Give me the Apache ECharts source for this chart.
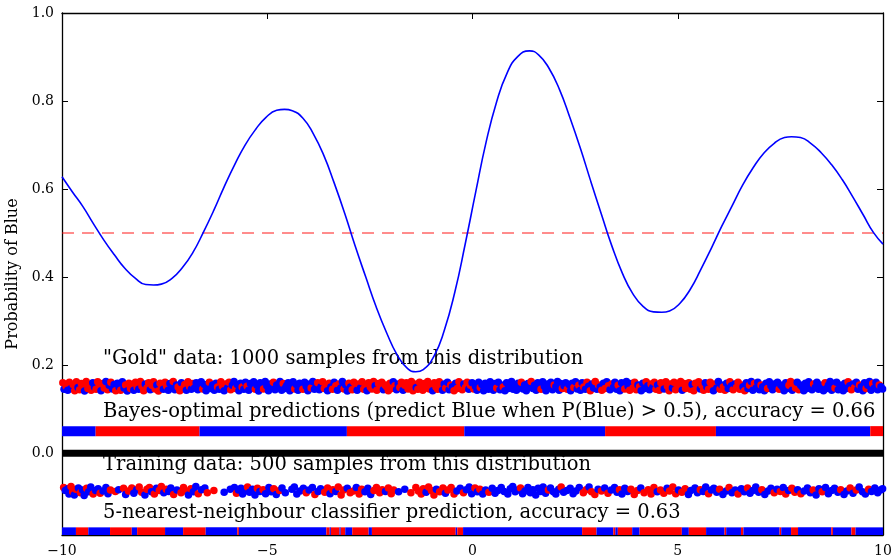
<!DOCTYPE html>
<html>
<head>
<meta charset="utf-8">
<script src="https://cdn.jsdelivr.net/npm/echarts@6/dist/echarts.min.js"></script>
<style>html,body{margin:0;padding:0;background:#fff}#c{width:894px;height:558px}</style>
</head>
<body>
<div id="c"></div>
<script>
// ---------- data ----------
const xTicks = [-10, -5, 0, 5, 10];
const yTicks = [0.0, 0.2, 0.4, 0.6, 0.8, 1.0];
const yMin = -0.186, yMax = 1.0;
const threshold = 0.5;

const curveX = [-10,-9.75,-9.49,-9.24,-8.98,-8.72,-8.47,-8.21,-7.96,-7.77,-7.58,-7.32,-7.07,-6.81,-6.56,-6.30,-6.05,-5.79,-5.54,-5.28,-5.03,-4.77,-4.58,-4.39,-4.13,-3.88,-3.62,-3.37,-3.11,-2.86,-2.60,-2.35,-2.09,-1.84,-1.58,-1.38,-1.20,-0.94,-0.69,-0.43,-0.18,0.08,0.33,0.59,0.84,1.10,1.39,1.61,1.86,2.12,2.37,2.63,2.88,3.14,3.39,3.65,3.90,4.16,4.41,4.61,4.80,5.05,5.31,5.56,5.82,6.07,6.33,6.58,6.84,7.09,7.35,7.60,7.77,7.99,8.24,8.50,8.75,9.01,9.26,9.52,9.77,10];
const curveY = [0.628,0.594,0.560,0.522,0.484,0.450,0.420,0.397,0.383,0.382,0.384,0.397,0.421,0.456,0.501,0.552,0.605,0.656,0.700,0.736,0.763,0.779,0.781,0.778,0.761,0.726,0.676,0.614,0.544,0.471,0.400,0.333,0.273,0.224,0.192,0.185,0.190,0.220,0.278,0.366,0.474,0.594,0.706,0.799,0.863,0.901,0.914,0.905,0.875,0.826,0.763,0.692,0.618,0.543,0.472,0.409,0.363,0.333,0.321,0.320,0.323,0.340,0.373,0.417,0.466,0.515,0.563,0.609,0.649,0.681,0.704,0.717,0.719,0.717,0.704,0.682,0.655,0.621,0.583,0.541,0.501,0.475];

// [x, y, colour] colour: 1 = Blue, 0 = Red
const goldPoints = [
[-9.98,.160,0],[-9.95,.145,1],[-9.9,.152,0],[-9.86,.143,1],[-9.82,.161,0],[-9.78,.147,1],
[-9.73,.156,0],[-9.69,.142,0],[-9.65,.162,0],[-9.61,.149,1],[-9.57,.144,0],[-9.53,.158,0],[-9.49,.150,0],[-9.45,.141,1],[-9.41,.163,0],[-9.37,.147,0],[-9.33,.155,0],[-9.29,.143,0],[-9.25,.160,1],[-9.21,.150,1],[-9.17,.145,0],[-9.13,.162,0],[-9.09,.153,0],[-9.05,.142,1],[-9.01,.158,0],[-8.97,.148,0],
[-8.93,.163,1],[-8.89,.144,0],[-8.85,.154,1],[-8.81,.161,0],[-8.77,.146,1],[-8.73,.156,1],[-8.69,.142,0],[-8.65,.159,1],[-8.61,.150,1],[-8.57,.143,0],[-8.53,.162,1],[-8.49,.148,1],[-8.45,.155,0],[-8.41,.141,1],
[-8.37,.159,0],[-8.33,.147,0],[-8.29,.156,0],[-8.25,.143,1],[-8.21,.161,0],[-8.17,.150,0],[-8.13,.145,1],[-8.09,.163,0],[-8.05,.152,0],[-8.01,.142,0],[-7.97,.157,1],[-7.93,.148,0],[-7.89,.160,0],[-7.85,.144,1],[-7.81,.154,0],[-7.77,.162,0],[-7.73,.146,0],[-7.69,.155,1],[-7.65,.141,0],[-7.61,.159,0],
[-7.57,.150,0],[-7.53,.145,1],[-7.49,.161,0],[-7.45,.152,0],[-7.41,.143,1],[-7.37,.158,1],[-7.33,.148,1],[-7.29,.163,0],[-7.25,.144,1],[-7.21,.155,1],[-7.17,.150,0],[-7.13,.142,0],[-7.09,.160,1],[-7.05,.147,0],[-7.01,.156,0],[-6.97,.143,1],[-6.93,.162,0],[-6.89,.151,0],[-6.85,.145,1],[-6.81,.158,0],[-6.77,.148,1],
[-6.73,.160,1],[-6.69,.144,1],[-6.65,.153,1],[-6.61,.162,1],[-6.57,.146,0],[-6.53,.156,1],[-6.49,.142,1],[-6.45,.150,1],[-6.41,.161,0],[-6.37,.147,1],[-6.33,.155,1],[-6.29,.143,1],[-6.25,.159,1],[-6.21,.150,0],
[-6.17,.145,1],[-6.13,.162,0],[-6.09,.152,0],[-6.05,.142,1],[-6.01,.157,0],[-5.97,.148,1],[-5.93,.161,0],[-5.89,.144,0],[-5.85,.154,1],[-5.81,.163,1],[-5.77,.147,0],[-5.73,.156,1],[-5.69,.142,1],[-5.65,.159,1],[-5.61,.150,0],[-5.57,.145,1],[-5.53,.161,1],[-5.49,.152,0],
[-5.45,.143,1],[-5.41,.158,1],[-5.37,.148,1],[-5.33,.162,1],[-5.29,.145,0],[-5.25,.154,1],[-5.21,.141,1],[-5.17,.160,1],[-5.13,.150,1],[-5.09,.146,0],[-5.05,.163,1],[-5.01,.153,1],[-4.97,.142,1],[-4.93,.157,1],[-4.89,.148,1],[-4.85,.161,0],[-4.81,.144,1],[-4.77,.155,1],[-4.73,.150,1],[-4.69,.163,1],[-4.65,.143,1],[-4.61,.158,0],[-4.57,.147,1],[-4.53,.153,1],[-4.49,.160,1],[-4.45,.142,1],[-4.41,.151,1],[-4.37,.162,1],[-4.33,.146,0],[-4.29,.156,1],[-4.25,.143,1],[-4.21,.159,1],[-4.17,.149,1],[-4.13,.145,0],[-4.09,.161,1],[-4.05,.152,1],[-4.01,.142,1],[-3.97,.157,1],[-3.93,.148,0],[-3.89,.163,1],[-3.85,.145,1],
[-3.81,.154,1],[-3.77,.160,0],[-3.73,.144,1],[-3.69,.151,1],[-3.65,.162,0],[-3.61,.147,0],[-3.57,.156,0],[-3.53,.142,1],[-3.49,.159,0],[-3.45,.150,1],[-3.41,.145,0],[-3.37,.161,1],[-3.33,.153,0],[-3.29,.143,1],[-3.25,.157,0],[-3.21,.148,1],[-3.17,.163,1],[-3.13,.146,0],[-3.09,.155,1],[-3.05,.141,1],[-3.01,.159,0],[-2.97,.150,1],[-2.93,.144,0],[-2.89,.161,0],[-2.85,.152,0],[-2.81,.143,1],[-2.77,.157,0],[-2.73,.148,1],[-2.69,.162,0],
[-2.65,.145,0],[-2.61,.155,0],[-2.57,.142,1],[-2.53,.160,0],[-2.49,.150,0],[-2.45,.146,0],[-2.41,.163,0],[-2.37,.153,1],[-2.33,.143,0],[-2.29,.158,0],[-2.25,.148,0],[-2.21,.161,0],[-2.17,.144,1],[-2.13,.155,0],[-2.09,.151,0],[-2.05,.142,0],[-2.01,.159,0],[-1.97,.147,0],[-1.93,.162,1],[-1.89,.153,0],
[-1.85,.144,1],[-1.81,.157,1],[-1.77,.149,0],[-1.73,.161,0],[-1.69,.143,1],[-1.65,.154,0],[-1.61,.160,0],[-1.57,.146,0],[-1.53,.152,0],[-1.49,.163,0],[-1.45,.142,0],[-1.41,.157,0],[-1.37,.149,1],[-1.33,.145,0],[-1.29,.161,0],[-1.25,.152,0],[-1.21,.143,0],[-1.17,.158,0],[-1.13,.148,0],[-1.09,.163,0],[-1.05,.146,0],[-1.01,.155,0],[-0.97,.142,1],[-0.93,.160,0],[-0.89,.150,0],[-0.85,.145,0],[-0.81,.162,0],[-0.77,.153,0],[-0.73,.143,1],[-0.69,.157,1],[-0.65,.148,0],[-0.61,.161,1],[-0.57,.144,1],[-0.53,.155,0],[-0.49,.151,1],[-0.45,.142,0],[-0.41,.159,1],[-0.37,.147,0],[-0.33,.162,0],[-0.29,.153,0],[-0.25,.144,0],[-0.21,.157,1],[-0.17,.149,0],[-0.13,.161,0],[-0.09,.145,1],[-0.05,.154,0],[-0.01,.160,1],
[0.03,.146,0],[0.07,.152,1],[0.11,.143,1],[0.15,.161,1],[0.19,.149,0],[0.23,.156,1],[0.27,.142,1],[0.31,.159,1],[0.35,.150,1],[0.39,.145,1],[0.43,.162,1],[0.47,.153,1],
[0.51,.143,1],[0.55,.158,1],[0.59,.148,0],[0.63,.161,1],[0.67,.144,1],[0.71,.155,1],[0.75,.150,0],[0.79,.142,1],[0.83,.160,1],[0.87,.147,1],[0.91,.156,1],[0.95,.163,1],[0.99,.145,1],[1.03,.152,1],[1.07,.143,1],[1.11,.159,1],[1.15,.149,1],[1.19,.161,0],[1.23,.146,1],[1.27,.155,1],[1.31,.142,1],[1.35,.158,1],[1.39,.150,1],[1.43,.163,0],
[1.47,.147,1],[1.51,.154,1],[1.55,.143,1],[1.59,.160,1],[1.63,.150,1],[1.67,.145,0],[1.71,.162,1],[1.75,.152,1],[1.79,.142,1],[1.83,.157,1],[1.87,.148,1],[1.91,.161,1],[1.95,.144,1],[1.99,.155,0],[2.03,.151,1],[2.07,.163,1],[2.11,.143,1],[2.15,.158,1],[2.19,.147,0],[2.23,.153,1],[2.27,.160,1],[2.31,.145,0],[2.35,.156,1],[2.39,.142,1],[2.43,.159,1],
[2.47,.149,0],[2.51,.162,1],[2.55,.146,1],[2.59,.154,0],[2.63,.143,1],[2.67,.160,1],[2.71,.150,0],[2.75,.145,1],[2.79,.161,0],[2.83,.152,1],[2.87,.142,0],[2.91,.157,1],[2.95,.148,1],[2.99,.163,0],[3.03,.145,1],[3.07,.155,0],[3.11,.150,1],[3.15,.143,0],[3.19,.159,1],[3.23,.147,0],[3.27,.162,1],[3.31,.153,0],[3.35,.144,1],[3.39,.157,0],
[3.43,.149,1],[3.47,.161,1],[3.51,.145,1],[3.55,.154,0],[3.59,.142,1],[3.63,.160,1],[3.67,.150,1],[3.71,.146,0],[3.75,.163,1],[3.79,.152,1],[3.83,.143,0],[3.87,.158,1],[3.91,.148,0],[3.95,.161,0],[3.99,.144,0],[4.03,.155,1],[4.07,.151,0],[4.11,.142,1],[4.15,.159,1],[4.19,.147,1],[4.23,.162,0],[4.27,.153,1],[4.31,.144,1],[4.35,.157,0],[4.39,.149,1],[4.43,.161,0],[4.47,.145,0],[4.51,.155,1],
[4.55,.143,0],[4.59,.160,0],[4.63,.150,0],[4.67,.146,1],[4.71,.162,0],[4.75,.152,0],[4.79,.142,0],[4.83,.157,0],[4.87,.148,1],[4.91,.161,0],[4.95,.144,0],[4.99,.155,0],[5.03,.151,0],[5.07,.163,0],[5.11,.143,1],[5.15,.158,0],[5.19,.147,0],[5.23,.153,0],[5.27,.160,0],[5.31,.145,0],[5.35,.156,1],[5.39,.142,0],[5.43,.159,0],[5.47,.149,0],[5.51,.162,0],[5.55,.146,1],[5.59,.154,0],[5.63,.143,0],[5.67,.160,1],[5.71,.150,1],[5.75,.145,0],[5.79,.161,0],[5.83,.152,0],[5.87,.142,1],[5.91,.157,0],[5.95,.148,1],[5.99,.163,1],[6.03,.145,0],[6.07,.155,1],[6.11,.150,0],[6.15,.143,0],
[6.19,.159,1],[6.23,.147,1],[6.27,.162,0],[6.31,.153,1],[6.35,.144,0],[6.39,.157,1],[6.43,.149,0],[6.47,.161,0],[6.51,.145,0],[6.55,.155,0],[6.59,.151,1],[6.63,.142,0],[6.67,.160,1],[6.71,.147,1],[6.75,.154,0],[6.79,.163,1],[6.83,.143,1],[6.87,.158,0],[6.91,.148,1],[6.95,.161,1],[6.99,.144,1],[7.03,.155,0],[7.07,.151,1],[7.11,.142,1],[7.15,.159,1],[7.19,.147,0],[7.23,.162,1],[7.27,.153,1],[7.31,.144,1],
[7.35,.157,1],[7.39,.149,1],[7.43,.161,1],[7.47,.145,0],[7.51,.155,1],[7.55,.151,1],[7.59,.142,1],[7.63,.160,1],[7.67,.147,1],[7.71,.154,0],[7.75,.163,0],[7.79,.143,1],[7.83,.158,0],[7.87,.148,0],[7.91,.161,1],[7.95,.144,0],[7.99,.155,1],[8.03,.151,1],[8.07,.142,1],[8.11,.159,1],
[8.15,.147,1],[8.19,.162,1],[8.23,.153,1],[8.27,.144,1],[8.31,.157,0],[8.35,.149,1],[8.39,.161,1],[8.43,.145,1],[8.47,.155,1],[8.51,.151,1],[8.55,.142,1],[8.59,.160,0],[8.63,.147,1],[8.67,.154,1],[8.71,.163,1],[8.75,.143,1],[8.79,.158,1],[8.83,.148,0],[8.87,.161,1],[8.91,.144,1],[8.95,.155,1],[8.99,.151,1],[9.03,.142,1],[9.07,.159,1],[9.11,.147,1],[9.15,.162,0],[9.19,.153,1],[9.23,.144,0],[9.27,.157,1],[9.31,.149,0],[9.35,.161,1],[9.39,.145,1],[9.43,.155,0],[9.47,.151,1],[9.51,.142,1],[9.55,.160,1],[9.59,.147,0],[9.63,.154,1],[9.67,.163,1],[9.71,.143,1],[9.75,.158,0],[9.79,.148,1],[9.83,.161,1],[9.87,.144,1],[9.91,.155,0],[9.95,.151,1],[9.99,.146,1]
];

const trainPoints = [
[-9.96,-.078,0],[-9.92,-.085,1],[-9.86,-.081,1],[-9.83,-.093,1],[-9.78,-.076,0],[-9.74,-.088,0],[-9.7,-.095,1],[-9.66,-.082,0],[-9.6,-.079,1],[-9.55,-.090,0],[-9.5,-.084,1],[-9.46,-.096,1],[-9.4,-.080,0],[-9.35,-.088,1],[-9.3,-.077,1],[-9.24,-.093,0],[-9.18,-.085,1],[-9.12,-.081,1],[-9.07,-.091,0],[-9.0,-.086,1],[-8.93,-.078,1],[-8.88,-.092,1],[-8.82,-.084,0],
[-8.7,-.087,0],[-8.62,-.083,1],
[-8.5,-.080,0],[-8.45,-.094,1],[-8.38,-.086,0],[-8.3,-.079,0],[-8.25,-.091,1],[-8.18,-.083,1],[-8.12,-.077,0],[-8.06,-.089,0],[-7.98,-.095,1],[-7.93,-.082,0],[-7.87,-.078,0],[-7.82,-.088,1],[-7.75,-.093,0],[-7.7,-.080,1],[-7.63,-.085,0],[-7.58,-.076,0],
[-7.52,-.090,1],[-7.46,-.082,0],[-7.4,-.087,1],[-7.35,-.079,1],[-7.28,-.094,0],[-7.2,-.084,1],[-7.1,-.090,0],[-7.04,-.078,0],[-6.98,-.086,0],[-6.92,-.095,1],[-6.86,-.081,0],[-6.8,-.088,1],[-6.74,-.076,1],[-6.68,-.092,0],[-6.6,-.083,1],[-6.52,-.079,1],[-6.46,-.090,0],
[-6.3,-.085,0],[-6.05,-.089,1],[-5.9,-.082,1],
[-5.8,-.078,1],[-5.75,-.091,0],[-5.7,-.084,1],[-5.64,-.080,1],[-5.6,-.093,1],[-5.54,-.086,1],[-5.48,-.077,0],[-5.43,-.089,1],[-5.36,-.082,1],[-5.3,-.095,1],[-5.24,-.080,0],[-5.18,-.087,1],[-5.1,-.083,0],[-5.04,-.092,1],[-4.96,-.078,1],[-4.9,-.088,1],[-4.84,-.081,0],[-4.78,-.094,1],[-4.7,-.085,0],[-4.64,-.079,1],[-4.56,-.090,1],
[-4.4,-.082,1],[-4.34,-.077,1],[-4.28,-.093,1],[-4.2,-.086,1],[-4.12,-.080,1],[-4.05,-.090,0],[-3.98,-.084,1],[-3.9,-.078,1],[-3.84,-.094,0],[-3.76,-.087,1],[-3.7,-.081,1],
[-3.6,-.089,0],[-3.53,-.079,0],[-3.47,-.092,1],[-3.4,-.083,0],[-3.33,-.087,1],[-3.27,-.077,0],[-3.2,-.095,0],[-3.14,-.084,0],[-3.05,-.080,1],[-2.98,-.090,0],[-2.9,-.086,0],[-2.83,-.078,1],[-2.76,-.093,0],[-2.7,-.082,0],
[-2.62,-.088,1],[-2.55,-.080,1],[-2.48,-.094,1],[-2.4,-.085,0],[-2.34,-.078,0],[-2.26,-.090,0],[-2.2,-.083,0],[-2.12,-.087,1],[-2.05,-.079,0],[-1.98,-.092,0],[-1.92,-.084,0],
[-1.8,-.088,1],[-1.65,-.082,1],[-1.5,-.090,0],
[-1.38,-.078,0],[-1.32,-.086,0],[-1.25,-.093,0],[-1.2,-.081,0],[-1.13,-.089,1],[-1.07,-.077,0],[-1.0,-.085,0],[-0.94,-.095,0],[-0.88,-.082,1],[-0.8,-.088,0],[-0.72,-.079,0],[-0.66,-.091,1],[-0.6,-.084,0],[-0.52,-.078,0],[-0.45,-.093,0],[-0.38,-.086,1],[-0.3,-.080,1],[-0.22,-.090,0],[-0.15,-.083,1],[-0.08,-.077,1],[-0.02,-.092,1],
[0.06,-.079,0],[0.12,-.088,1],[0.18,-.082,0],[0.25,-.093,1],[0.32,-.084,1],[0.4,-.089,0],[0.48,-.080,1],[0.55,-.091,1],[0.62,-.085,1],[0.7,-.078,1],[0.77,-.087,1],
[0.86,-.093,1],[0.92,-.081,1],[0.98,-.076,1],[1.04,-.088,1],[1.1,-.084,1],[1.17,-.079,0],[1.22,-.092,1],[1.28,-.086,1],[1.35,-.078,1],[1.41,-.090,1],[1.47,-.083,1],[1.54,-.095,1],[1.6,-.080,1],[1.66,-.087,1],[1.72,-.077,1],[1.78,-.091,1],[1.85,-.084,0],[1.9,-.079,1],[1.97,-.088,1],[2.03,-.093,1],[2.1,-.082,1],[2.16,-.077,0],[2.22,-.089,1],[2.3,-.085,1],[2.38,-.080,1],[2.45,-.092,1],[2.52,-.086,1],[2.6,-.078,1],
[2.7,-.090,0],[2.77,-.083,0],[2.84,-.077,1],[2.9,-.088,0],[2.98,-.094,0],[3.06,-.082,1],[3.14,-.086,0],[3.22,-.079,1],[3.3,-.091,0],[3.38,-.084,1],
[3.46,-.078,1],[3.52,-.089,1],[3.58,-.083,0],[3.64,-.093,1],[3.71,-.080,1],[3.78,-.087,1],[3.86,-.082,0],[3.94,-.094,0],[4.02,-.085,0],[4.1,-.079,1],[4.18,-.090,0],
[4.28,-.083,0],[4.35,-.093,0],[4.42,-.078,0],[4.5,-.088,1],[4.58,-.084,0],[4.66,-.091,0],[4.74,-.080,1],[4.8,-.086,0],[4.88,-.077,0],[4.95,-.092,0],[5.02,-.084,1],[5.1,-.089,0],[5.18,-.081,0],[5.26,-.094,1],[5.32,-.085,1],
[5.42,-.079,1],[5.48,-.090,1],[5.55,-.083,0],[5.62,-.087,1],[5.68,-.077,1],[5.75,-.092,0],[5.82,-.084,1],[5.88,-.080,1],[5.95,-.089,1],[6.02,-.082,0],[6.1,-.094,1],[6.18,-.086,1],[6.25,-.078,0],[6.32,-.090,1],[6.4,-.084,1],[6.47,-.093,0],
[6.55,-.081,1],[6.62,-.088,1],[6.7,-.079,0],[6.76,-.091,1],[6.83,-.085,1],[6.9,-.077,1],[6.97,-.089,1],[7.05,-.083,0],[7.12,-.094,1],[7.2,-.086,1],[7.27,-.080,1],
[7.35,-.090,0],[7.42,-.082,1],[7.5,-.087,0],[7.57,-.078,1],[7.63,-.093,0],[7.7,-.085,1],[7.78,-.080,0],[7.85,-.089,0],[7.92,-.083,1],[8.0,-.092,0],[8.08,-.086,1],
[8.16,-.079,1],[8.23,-.090,1],[8.3,-.084,0],[8.37,-.095,1],[8.44,-.081,1],[8.52,-.088,0],[8.6,-.078,1],[8.67,-.092,1],[8.75,-.085,1],[8.82,-.080,1],[8.9,-.089,1],[8.97,-.083,0],[9.05,-.094,1],[9.12,-.086,1],[9.2,-.079,0],[9.27,-.091,1],[9.35,-.084,0],[9.42,-.077,1],[9.5,-.088,1],[9.57,-.093,1],[9.65,-.082,0],[9.72,-.087,1],[9.8,-.079,1],[9.87,-.090,1],[9.94,-.084,1],[9.99,-.081,1]
];

// prediction strips: [start, end, colour]
const bayesSegments = [[-10,-9.18,1],[-9.18,-6.65,0],[-6.65,-3.06,1],[-3.06,-0.2,0],[-0.2,3.23,1],[3.23,5.93,0],[5.93,9.69,1],[9.69,10,0]];
const knnSegments = [[-10,-9.66,1],[-9.66,-9.36,0],[-9.36,-8.83,1],[-8.83,-8.30,0],[-8.30,-8.17,1],[-8.17,-7.49,0],[-7.49,-7.05,1],[-7.05,-6.50,0],[-6.50,-5.73,1],[-5.73,-5.69,0],[-5.69,-3.56,1],[-3.56,-3.48,0],[-3.48,-3.45,1],[-3.45,-3.24,0],[-3.24,-3.21,1],[-3.21,-3.10,0],[-3.10,-2.93,1],[-2.93,-2.53,0],[-2.53,-2.45,1],[-2.45,-0.41,0],[-0.41,-0.37,1],[-0.37,-0.23,0],[-0.23,2.67,1],[2.67,3.02,0],[3.02,3.43,1],[3.43,3.48,0],[3.48,3.54,1],[3.54,3.89,0],[3.89,4.07,1],[4.07,5.10,0],[5.10,5.27,1],[5.27,5.69,0],[5.69,6.14,1],[6.14,6.18,0],[6.18,6.54,1],[6.54,6.60,0],[6.60,7.48,1],[7.48,7.52,0],[7.52,7.76,1],[7.76,7.93,0],[7.93,8.74,1],[8.74,8.78,0],[8.78,9.23,1],[9.23,9.33,0],[9.33,10,1]];
const bayesLevel = 0.05;
const knnLevel = -0.18;

const labelTexts = [
  '"Gold" data: 1000 samples from this distribution',
  'Bayes-optimal predictions (predict Blue when P(Blue) > 0.5), accuracy = 0.66',
  'Training data: 500 samples from this distribution',
  '5-nearest-neighbour classifier prediction, accuracy = 0.63'
];
const labelX = [-9, -9, -9, -9];
const labelY = [0.2, 0.08, -0.04, -0.15];

// ---------- chart ----------
const BLUE = '#0000ff', RED = '#ff0000';
const SERIF = '"DejaVu Serif", serif';
const LABEL_SIZE = 19.5;
const chart = echarts.init(document.getElementById('c'), null, {renderer: 'canvas'});

const minus = v => String(v).replace('-', '\u2212');
const tickStyle = {show: true, inside: true, length: 6, lineStyle: {color: '#000', width: 1}};
const lineStyleAxis = {show: true, onZero: false, lineStyle: {color: '#000', width: 1.3}};

function barRender(level) {
  return function (params, api) {
    const s = api.coord([api.value(0), level]);
    const e = api.coord([api.value(1), level]);
    return {
      type: 'rect',
      shape: {x: s[0], y: s[1] - 5, width: e[0] - s[0], height: 10},
      style: {fill: api.value(2) ? BLUE : RED}
    };
  };
}

chart.setOption({
  animation: false,
  backgroundColor: '#fff',
  grid: {left: 62, right: 11, top: 13, bottom: 23, containLabel: false, outerBoundsMode: 'none'},
  xAxis: [
    {type: 'value', min: -10, max: 10, interval: 5, position: 'bottom',
     axisLine: lineStyleAxis, axisTick: tickStyle, splitLine: {show: false},
     axisLabel: {show: true, margin: 9, color: '#000', fontFamily: SERIF, fontSize: 14,
                 formatter: v => minus(v), customValues: xTicks}},
    {type: 'value', min: -10, max: 10, interval: 5, position: 'top',
     axisLine: lineStyleAxis, axisTick: tickStyle, splitLine: {show: false},
     axisLabel: {show: false}}
  ],
  yAxis: [
    {type: 'value', min: yMin, max: yMax, position: 'left',
     axisLine: lineStyleAxis, splitLine: {show: false},
     axisTick: Object.assign({}, tickStyle, {customValues: yTicks}),
     axisLabel: {show: true, margin: 8, color: '#000', fontFamily: SERIF, fontSize: 14,
                 customValues: yTicks, formatter: v => v.toFixed(1)},
     name: 'Probability of Blue', nameLocation: 'middle', nameGap: 38, nameRotate: 90,
     nameTextStyle: {color: '#000', fontFamily: SERIF, fontSize: 16}},
    {type: 'value', min: yMin, max: yMax, position: 'right',
     axisLine: lineStyleAxis, splitLine: {show: false},
     axisTick: Object.assign({}, tickStyle, {customValues: yTicks}),
     axisLabel: {show: false}}
  ],
  series: [
    {type: 'line', name: 'threshold', data: [[-10, threshold], [10, threshold]], symbol: 'none',
     lineStyle: {color: 'rgba(255,0,0,0.6)', width: 1.5, type: [12, 8]}, z: 2, silent: true},
    {type: 'line', name: 'zero', data: [[-10, 0], [10, 0]], symbol: 'none',
     lineStyle: {color: '#000', width: 7}, z: 3, silent: true},
    {type: 'custom', name: 'bayes', data: bayesSegments, encode: {x: [0, 1]},
     renderItem: barRender(bayesLevel), clip: true, z: 3, silent: true},
    {type: 'custom', name: 'knn', data: knnSegments, encode: {x: [0, 1]},
     renderItem: barRender(knnLevel), clip: true, z: 3, silent: true},
    {type: 'scatter', name: 'gold', data: goldPoints, symbolSize: 7.5,
     itemStyle: {opacity: 1, color: p => p.data[2] ? BLUE : RED}, z: 4, silent: true},
    {type: 'scatter', name: 'train', data: trainPoints, symbolSize: 7.5,
     itemStyle: {opacity: 1, color: p => p.data[2] ? BLUE : RED}, z: 4, silent: true},
    {type: 'custom', name: 'labels', data: labelTexts.map((t, i) => [labelX[i], labelY[i]]),
     encode: {x: 0, y: 1}, clip: false, z: 5, silent: true,
     renderItem: (params, api) => {
       const p = api.coord([api.value(0), api.value(1)]);
       return {type: 'text', x: p[0], y: p[1] - 0.83 * LABEL_SIZE,
               style: {text: labelTexts[params.dataIndex], fill: '#000',
                       font: LABEL_SIZE + 'px ' + SERIF, textAlign: 'left', verticalAlign: 'top'}};
     }},
    {type: 'line', name: 'P(Blue)', data: curveX.map((x, i) => [x, curveY[i]]), symbol: 'none',
     smooth: 0.5, lineStyle: {color: BLUE, width: 1.6}, z: 6, silent: true}
  ]
});
</script>
</body>
</html>
